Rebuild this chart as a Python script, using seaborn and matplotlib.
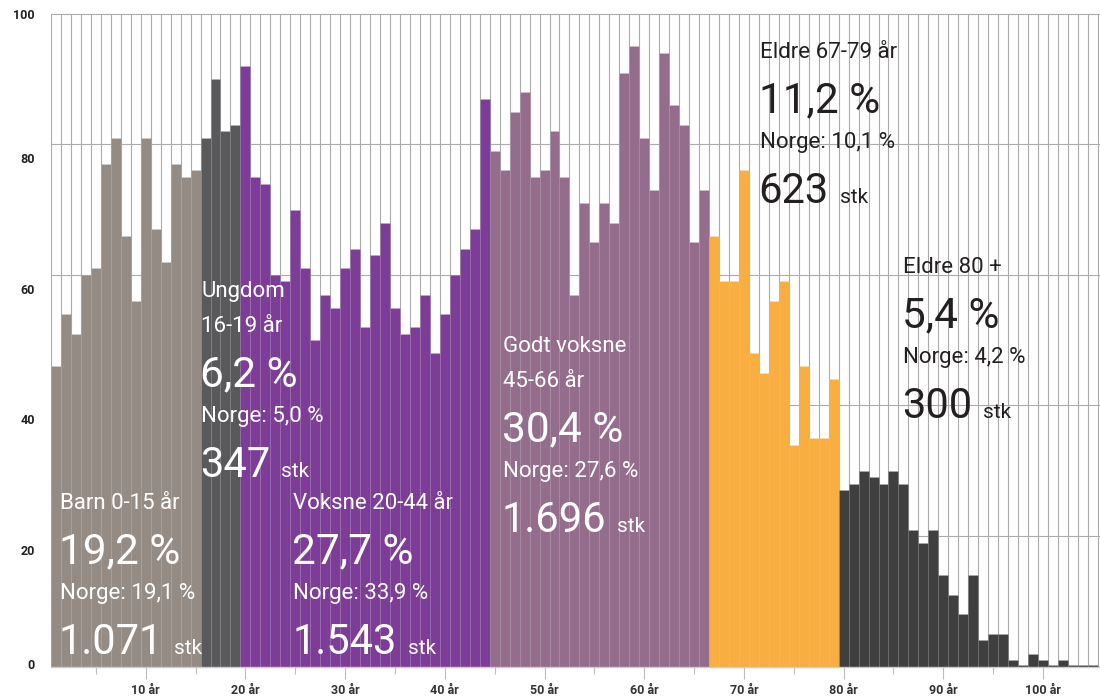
import numpy as np
import pandas as pd
import matplotlib
matplotlib.use("Agg")
import matplotlib.pyplot as plt
import seaborn as sns
from matplotlib.transforms import ScaledTranslation

# ---------------- data ----------------
ages = list(range(1, 106))
values = [46, 54, 51, 60, 61, 77, 81, 66, 56, 81,
          67, 62, 77, 75, 76, 81, 90, 82, 83, 92,
          75, 74, 60, 59, 70, 61, 50, 57, 55, 61,
          64, 52, 63, 68, 55, 51, 52, 57, 48, 54,
          60, 64, 67, 87, 79, 76, 85, 88, 75, 76,
          82, 75, 57, 71, 65, 71, 68, 91, 95, 81,
          73, 94, 86, 83, 65, 73, 66, 59, 59, 76,
          48, 45, 56, 59, 34, 46, 35, 35, 44, 27,
          28, 30, 29, 28, 30, 28, 21, 19, 21, 14,
          11, 8, 14, 4, 5, 5, 1, 0.3, 2, 1,
          0.3, 1, 0.3, 0.3, 0.3]

group_names = ["Barn", "Ungdom", "Voksne", "Godt voksne", "Eldre 67-79", "Eldre 80+"]
group_start_age = [1, 16, 20, 45, 67, 80]
group_colors = ["#938b84", "#59595b", "#7d3c97", "#956d8c", "#f9ae42", "#3f3f3f"]

group_headers = [["Barn 0-15 år"], ["Ungdom", "16-19 år"], ["Voksne 20-44 år"],
                 ["Godt voksne", "45-66 år"], ["Eldre 67-79 år"], ["Eldre 80 +"]]
group_pct = ["19,2 %", "6,2 %", "27,7 %", "30,4 %", "11,2 %", "5,4 %"]
group_norge = ["Norge: 19,1 %", "Norge: 5,0 %", "Norge: 33,9 %", "Norge: 27,6 %",
               "Norge: 10,1 %", "Norge: 4,2 %"]
group_count = ["1.071", "347", "1.543", "1.696", "623", "300"]

x_major = list(range(10, 101, 10))
x_minor = list(range(5, 100, 10))
x_labels = [f"{v} år" for v in x_major]
y_ticks = [0, 20, 40, 60, 80, 100]
y_labels = [str(v) for v in y_ticks]

# ---------------- styling ----------------
sns.set_theme(style="white")
plt.rcParams["font.family"] = ["Roboto", "DejaVu Sans"]

W, H = 1100, 699
fig = plt.figure(figsize=(W / 100, H / 100), dpi=100)
ax = fig.add_axes([51 / W, (H - 666.6) / H, (W - 51) / W, (666.6 - 7.3) / H])

idx = np.searchsorted(group_start_age, ages, side="right") - 1
df = pd.DataFrame({"age": ages, "value": values,
                   "group": [group_names[i] for i in idx]})
palette = dict(zip(group_names, group_colors))

sns.barplot(data=df, x="age", y="value", hue="group", hue_order=group_names,
            palette=palette, native_scale=True, width=1, dodge=False,
            saturation=1, errorbar=None, legend=False,
            edgecolor=(1, 1, 1, 0.10), linewidth=0.6, ax=ax, zorder=2)

xmax = 0.5 + (W - 51) / 9.97
ax.set_xlim(0.5, xmax)
ax.set_ylim(0, 101)

# column grid (one line at every bar boundary) and horizontal grid
ax.vlines(np.arange(0.5, len(ages) + 1), 0, 100, colors="#ababab",
          linewidth=0.8, zorder=0.5)
ax.set_yticks(y_ticks)
ax.yaxis.grid(True, color="#ababab", linewidth=0.8)
ax.xaxis.grid(False)
ax.set_axisbelow(True)

for s in ["left", "top", "right"]:
    ax.spines[s].set_visible(False)
ax.spines["bottom"].set_color("#cccccc")
ax.spines["bottom"].set_linewidth(1)
ax.spines["bottom"].set_zorder(3)

ax.set_xticks(x_major)
ax.set_xticklabels(x_labels)
ax.set_xticks(x_minor, minor=True)
ax.tick_params(axis="x", which="major", length=8.6, width=0.8, color="#bdbdbd",
               pad=4, labelsize=9, labelcolor="#333333", bottom=True)
ax.tick_params(axis="x", which="minor", length=5, width=0.8, color="#bdbdbd", bottom=True)
for t in ax.get_xticklabels():
    t.set_fontweight("bold")

ax.set_yticklabels(y_labels)
ax.tick_params(axis="y", length=0, pad=11.5, labelsize=9, labelcolor="#231f20")
label_shift_px = {0: 2.6, 20: -14, 40: -13.5, 60: -14, 80: -14, 100: 0}
for tick, val in zip(ax.yaxis.get_major_ticks(), y_ticks):
    tick.label1.set_fontweight("bold")
    tick.label1.set_transform(tick.label1.get_transform() +
                              ScaledTranslation(0, label_shift_px[val] / 100,
                                                fig.dpi_scale_trans))
ax.set_xlabel("")
ax.set_ylabel("")

# ---------------- annotations ----------------
anchors = [(1.40, 24.1), (15.55, 56.6), (24.82, 24.1),
           (45.84, 48.2), (71.61, 93.2), (85.96, 60.3)]
text_colors = ["white", "white", "white", "white", "#231f20", "#231f20"]
PT = 0.72  # points per pixel

for i in range(len(group_names)):
    x0, y0 = anchors[i]
    c = text_colors[i]
    off = 0
    for j, h in enumerate(group_headers[i]):
        if j > 0:
            off += 35
        ax.annotate(h, (x0, y0), xytext=(0, -off * PT), textcoords="offset points",
                    ha="left", va="baseline", fontsize=16, color=c, zorder=5)
    ax.annotate(group_pct[i], (x0, y0), xytext=(-1, -(off + 54) * PT),
                textcoords="offset points", ha="left", va="baseline",
                fontsize=30.5, color=c, zorder=5)
    ax.annotate(group_norge[i], (x0, y0), xytext=(0, -(off + 90) * PT),
                textcoords="offset points", ha="left", va="baseline",
                fontsize=16, color=c, zorder=5)
    num = ax.annotate(group_count[i], (x0, y0), xytext=(-1, -(off + 145) * PT),
                      textcoords="offset points", ha="left", va="baseline",
                      fontsize=30, color=c, zorder=5)
    ax.annotate("stk", xy=(1, y0), xycoords=(num, "data"),
                xytext=(8, -(off + 145) * PT),
                textcoords="offset points", ha="left", va="baseline",
                fontsize=15, color=c, zorder=5, annotation_clip=False)

fig.savefig("out.png", dpi=100)
